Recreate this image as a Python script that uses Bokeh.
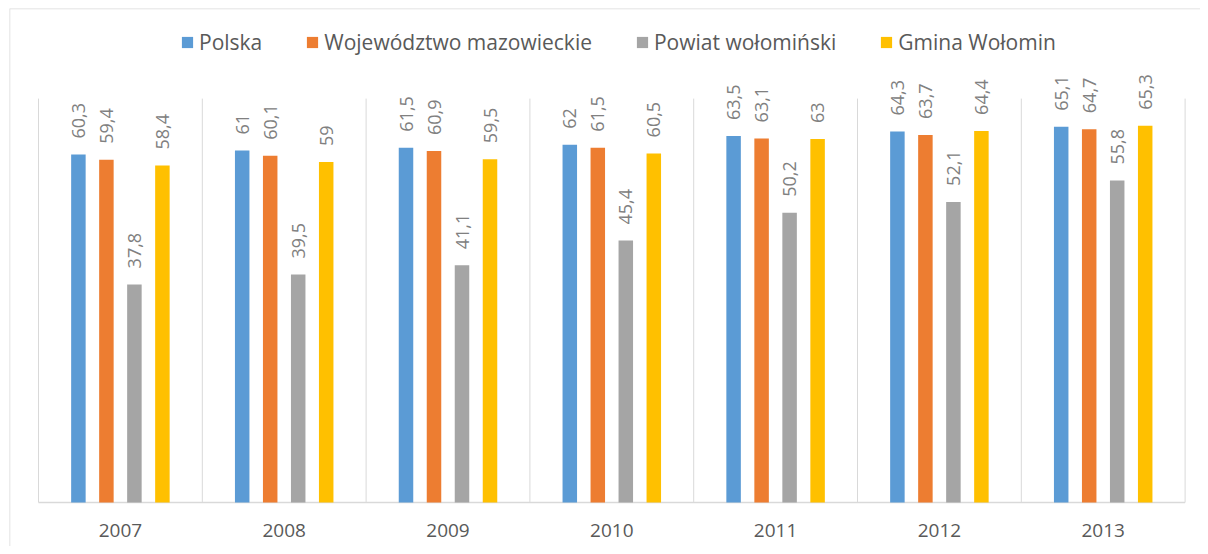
import math
from bokeh.plotting import figure
from bokeh.models import ColumnDataSource, Range1d, Legend, LegendItem, Span
from bokeh.transform import dodge
from bokeh.core.properties import value
from bokeh.embed import file_html
from bokeh.resources import INLINE

years = ["2007", "2008", "2009", "2010", "2011", "2012", "2013"]
series_names = ["Polska", "Województwo mazowieckie", "Powiat wołomiński", "Gmina Wołomin"]
polska = [60.3, 61.0, 61.5, 62.0, 63.5, 64.3, 65.1]
mazowieckie = [59.4, 60.1, 60.9, 61.5, 63.1, 63.7, 64.7]
wolominski = [37.8, 39.5, 41.1, 45.4, 50.2, 52.1, 55.8]
wolomin = [58.4, 59.0, 59.5, 60.5, 63.0, 64.4, 65.3]
colors = ["#5b9bd5", "#ed7d31", "#a5a5a5", "#ffc000"]

def fmt(v):
    s = ("%.1f" % v)
    if s.endswith(".0"):
        s = s[:-2]
    return s.replace(".", ",")

W, H = 1200, 546
BL, BT = 9, 8           # figure border offsets (left, top)
FW, FH = W - BL, H - BT  # frame size
cat_px = 163.8
left_px = 38.0 - BL
right_px = FW - left_px - 7 * cat_px
ppu = 5.77
base_px = H - 502.0  # from bottom edge to baseline

x0 = -left_px / cat_px
x1 = 7 + right_px / cat_px
y0 = -base_px / ppu
y1 = (FH - base_px) / ppu

p = figure(width=W, height=H, output_backend="svg", toolbar_location=None,
           x_range=Range1d(x0, x1), y_range=Range1d(y0, y1),
           min_border=0, min_border_left=BL, min_border_right=0,
           min_border_top=BT, min_border_bottom=0)
p.xaxis.visible = False
p.yaxis.visible = False
p.xgrid.visible = False
p.ygrid.visible = False
p.outline_line_color = None
p.background_fill_color = "white"
p.border_fill_color = "white"

# chart border (left and top visible in the view)
p.add_layout(Span(location=x0, dimension="height", line_color="#d9d9d9", line_width=1.5))
p.add_layout(Span(location=y1, dimension="width", line_color="#d9d9d9", line_width=1.5))

centers = [i + 0.5 for i in range(len(years))]
src = ColumnDataSource(dict(x=centers, years=years,
                            s0=polska, s1=mazowieckie, s2=wolominski, s3=wolomin,
                            l0=[fmt(v) for v in polska], l1=[fmt(v) for v in mazowieckie],
                            l2=[fmt(v) for v in wolominski], l3=[fmt(v) for v in wolomin]))

# separators and baseline
bounds = list(range(len(years) + 1))
p.segment(x0=bounds, y0=[0] * len(bounds), x1=bounds, y1=[70] * len(bounds),
          line_color="#d9d9d9", line_width=1)
p.segment(x0=[0], y0=[0], x1=[len(years)], y1=[0], line_color="#d9d9d9", line_width=1.5)

pitch = 28.0 / cat_px
bw = 14.5 / cat_px
offsets = [-1.5, -0.5, 0.5, 1.5]
renderers = []
for k in range(4):
    r = p.vbar(x=dodge("x", offsets[k] * pitch, range=p.x_range), top="s%d" % k, width=bw,
               bottom=0, source=src, fill_color=colors[k], line_color=None)
    renderers.append(r)
    p.text(x=dodge("x", offsets[k] * pitch, range=p.x_range), y="s%d" % k, text="l%d" % k,
           source=src, angle=math.pi / 2, text_align="left", text_baseline="middle",
           y_offset=-16, text_font=value("Open Sans"), text_font_size="18px",
           text_color="#808080")

# category labels
p.text(x="x", y=0, text="years", source=src, text_align="center", text_baseline="middle",
       y_offset=28, text_font=value("Open Sans"), text_font_size="19px", text_color="#595959")

items = [LegendItem(label=series_names[k], renderers=[renderers[k]]) for k in range(4)]
legend = Legend(items=items, orientation="horizontal", location=(180 - BL, FH - 48),
                glyph_width=14, glyph_height=14, label_standoff=5, spacing=43,
                label_text_font="Open Sans", label_text_font_size="21px",
                label_text_color="#595959", label_height=20, padding=0, margin=0,
                border_line_color=None, background_fill_alpha=0)
p.add_layout(legend, "center")

open("out.html", "w").write(file_html(p, INLINE))
